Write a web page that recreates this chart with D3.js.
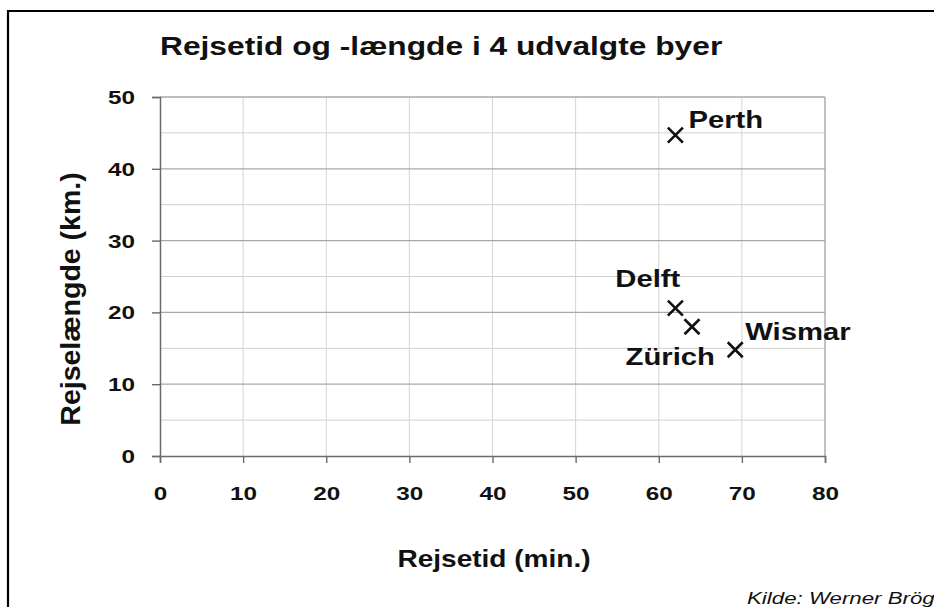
<!DOCTYPE html>
<html>
<head>
<meta charset="utf-8">
<script src="https://cdn.jsdelivr.net/npm/d3@7"></script>
<style>
  html, body { margin: 0; padding: 0; background: #fff; }
  svg { display: block; }
  text { font-family: "Liberation Sans", Arial, sans-serif; fill: #111; }
</style>
</head>
<body>
<svg id="chart" width="934" height="607"></svg>
<script>
// ---- data ----
const cities = ["Perth", "Delft", "Zürich", "Wismar"];
const travelTime = [62, 62, 64, 69.2];      // Rejsetid (min.)
const travelLength = [44.7, 20.6, 18, 14.8]; // Rejselængde (km.)
const xTicks = [0, 10, 20, 30, 40, 50, 60, 70, 80];
const yTicks = [0, 10, 20, 30, 40, 50];
const yMinorTicks = [5, 15, 25, 35, 45];
const title = "Rejsetid og -længde i 4 udvalgte byer";
const xLabel = "Rejsetid (min.)";
const yLabel = "Rejselængde (km.)";
const source = "Kilde: Werner Brög";

// ---- label placement (style only) ----
const labelStyle = {
  Perth:  { dx: 13, dy: -7,  anchor: "start" },
  Delft:  { dx: 5,  dy: -21, anchor: "end" },
  "Zürich": { dx: 23, dy: 38, anchor: "end" },
  Wismar: { dx: 10, dy: -10, anchor: "start" }
};
const SX = 1.22;
const TSX = 1.35;

const svg = d3.select("#chart");
const plot = { left: 160, right: 825, top: 97, bottom: 456 };

const x = d3.scaleLinear().domain([0, 80]).range([plot.left, plot.right]);
const y = d3.scaleLinear().domain([0, 50]).range([plot.bottom, plot.top]);

// frame (top and left edges visible)
svg.append("path").attr("d", "M8,607V11H934")
  .attr("fill", "none").attr("stroke", "#000").attr("stroke-width", 2.2);

// grid - minor horizontal
svg.append("g").selectAll("line").data(yMinorTicks).join("line")
  .attr("x1", plot.left).attr("x2", plot.right)
  .attr("y1", d => y(d)).attr("y2", d => y(d))
  .attr("stroke", "#d0d0d0").attr("stroke-width", 1);
// grid - vertical
svg.append("g").selectAll("line").data(xTicks.filter(d => d > 0 && d < 80)).join("line")
  .attr("x1", d => x(d)).attr("x2", d => x(d))
  .attr("y1", plot.top).attr("y2", plot.bottom)
  .attr("stroke", "#d4d4d4").attr("stroke-width", 1);
// grid - major horizontal
svg.append("g").selectAll("line").data(yTicks.filter(d => d > 0)).join("line")
  .attr("x1", plot.left).attr("x2", plot.right)
  .attr("y1", d => y(d)).attr("y2", d => y(d))
  .attr("stroke", "#a8a8a8").attr("stroke-width", 1.3);
// right border
svg.append("line").attr("x1", plot.right).attr("x2", plot.right)
  .attr("y1", plot.top).attr("y2", plot.bottom)
  .attr("stroke", "#a0a0a0").attr("stroke-width", 1.3);

// axes
const xAxis = svg.append("g").attr("transform", `translate(0,${plot.bottom})`)
  .call(d3.axisBottom(x).tickValues(xTicks).tickSize(7).tickPadding(24).tickFormat(d3.format("d")));
const yAxis = svg.append("g").attr("transform", `translate(${plot.left},0)`)
  .call(d3.axisLeft(y).tickValues(yTicks).tickSize(8).tickPadding(9).tickFormat(d3.format("d")));
[xAxis, yAxis].forEach(g => {
  g.select(".domain").attr("stroke", "#6a6a6a").attr("stroke-width", 1.5);
  g.selectAll(".tick line").attr("stroke", "#6a6a6a").attr("stroke-width", 1.4);
  g.selectAll(".tick text")
    .style("font-family", "'Liberation Sans', Arial, sans-serif")
    .style("font-size", "18px").style("font-weight", "bold")
    .attr("fill", "#222")
    .attr("transform", `scale(${TSX},1)`);
});
yAxis.selectAll(".tick text").attr("dy", "0.36em").attr("x", -18.5);

// title
svg.append("text").attr("transform", `translate(160,55) scale(${SX},1)`)
  .style("font-size", "26px").style("font-weight", "bold").text(title);

// x label
svg.append("text").attr("transform", `translate(494,567) scale(${SX},1)`)
  .attr("text-anchor", "middle")
  .style("font-size", "23px").style("font-weight", "bold").text(xLabel);

// y label
svg.append("text").attr("transform", `translate(80,299) rotate(-90)`)
  .attr("text-anchor", "middle")
  .style("font-size", "28.5px").style("font-weight", "bold").text(yLabel);

// source
svg.append("text").attr("transform", `translate(747,604) scale(1.35,1)`)
  .style("font-size", "16.5px").style("font-style", "italic").attr("fill", "#333").text(source);

// markers
const pts = cities.map((c, i) => ({ name: c, t: travelTime[i], l: travelLength[i] }));
const h = 7.5;
const mk = svg.append("g").selectAll("g").data(pts).join("g")
  .attr("transform", d => `translate(${x(d.t)},${y(d.l)})`);
mk.append("path")
  .attr("d", `M${-h},${-h}L${h},${h}M${h},${-h}L${-h},${h}`)
  .attr("stroke", "#111").attr("stroke-width", 2.6).attr("fill", "none");

// point labels
svg.append("g").selectAll("text").data(pts).join("text")
  .attr("transform", d => `translate(${x(d.t) + labelStyle[d.name].dx},${y(d.l) + labelStyle[d.name].dy}) scale(${SX},1)`)
  .attr("text-anchor", d => labelStyle[d.name].anchor)
  .style("font-size", "24px").style("font-weight", "bold")
  .text(d => d.name);
</script>
</body>
</html>
